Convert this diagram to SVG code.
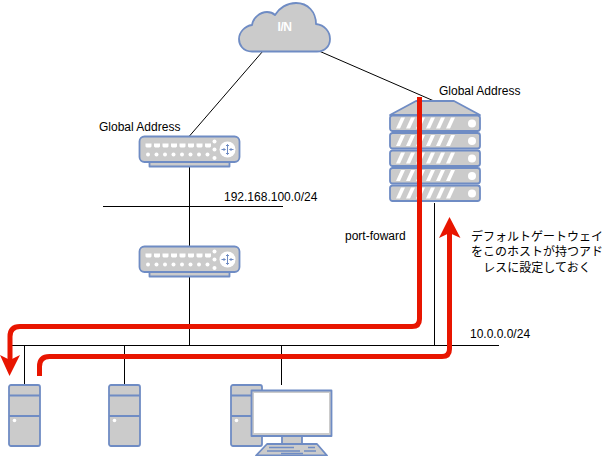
<svg xmlns="http://www.w3.org/2000/svg" width="610" height="456" viewBox="0 0 610 456">
<style>
.s{fill:#cbcbcb;stroke:#6f8cc4;stroke-width:1.800;stroke-linejoin:round}
.w{fill:#fff}
.l{fill:none;stroke:#000;stroke-width:1}
.r{fill:none;stroke:#e81500;stroke-width:5}
.a{fill:#e81500}
.t{font-family:"Liberation Sans","Noto Sans CJK JP",sans-serif;font-size:12px;fill:#000}
.j{text-anchor:middle}
.m{fill:none;stroke:#6f8cc4;stroke-width:1.800}
</style>
<defs>
<g id="router">
<rect class="s" x="10" y="24" width="80" height="6"/>
<rect class="s" x="0" y="0" width="100" height="25.500" rx="5"/>
<g class="w">
<path d="M6 7h6v3l-1 1h-4l-1-1zM14.500 7h6v3l-1 1h-4l-1-1zM23 7h6v3l-1 1h-4l-1-1zM31.500 7h6v3l-1 1h-4l-1-1zM40 7h6v3l-1 1h-4l-1-1zM48.500 7h6v3l-1 1h-4l-1-1zM57 7h6v3l-1 1h-4l-1-1zM65.500 7h6v3l-1 1h-4l-1-1z"/>
<circle cx="8.500" cy="18" r="2"/><circle cx="17" cy="18" r="2"/><circle cx="25.500" cy="18" r="2"/><circle cx="34" cy="18" r="2"/><circle cx="42.500" cy="18" r="2"/><circle cx="51" cy="18" r="2"/><circle cx="59.500" cy="18" r="2"/><circle cx="68" cy="18" r="2"/>
<circle cx="75" cy="5" r="2"/><circle cx="75" cy="13" r="2"/><circle cx="75" cy="21.500" r="2"/>
<circle cx="88" cy="13" r="8"/>
</g>
<path d="M88 8v10M82 13h4M90 13h4M86.500 9.500l1.500-1.500 1.500 1.500M86.500 16.500l1.500 1.500 1.500-1.500M84 11.500l1.500 1.500-1.500 1.500M92 11.500l-1.500 1.500 1.500 1.500" fill="none" stroke="#6f8cc4" stroke-width="1"/>
</g>
<g id="slab">
<rect class="s" x="0" y="0" width="90" height="15.500" rx="2.500"/>
<path class="w" d="M6 13l5-11h4l-5 11zM16 13l5-11h4l-5 11zM26 13l5-11h4l-5 11zM36 13l5-11h4l-5 11zM46 13l5-11h4l-5 11zM56 13l5-11h4l-5 11z"/>
<circle class="w" cx="82" cy="8" r="4"/>
</g>
<g id="tower">
<rect class="s" x="0" y="0" width="31" height="61" rx="2"/>
<path class="m" d="M0 10.500h31M0 31h31"/>
<circle class="w" cx="5.500" cy="35.500" r="1.800"/>
</g>
</defs>
<g id="connectors">
<path class="l" d="M263 51L189.500 136M319 51L434 101M189.500 167V345.500M103 206.500H283M12 345.500H499M24.500 345.500V385M124.500 345.500V385M281.500 345.500V385M434.500 203V345.500"/>
</g>
<g id="cloud">
<path class="s" d="M252 51.500C243 51.500 239 45 239 39C239 32 245 26 252 25C253 18 260 12 267 12C270 12 273 13 275 15C279 8 287 3 296 3C308 3 316 12 316 24C325 25 330 32 330 39C330 46 325 51.500 317 51.500Z"/>
<text x="284.500" y="31" text-anchor="middle" style="font-family:'Liberation Sans',sans-serif;font-size:12px;font-weight:bold;fill:#fff;letter-spacing:-0.5px">I/N</text>
</g>
<g id="router1"><use href="#router" x="139.500" y="136.500"/></g>
<g id="router2"><use href="#router" x="139.500" y="246.500"/></g>
<g id="server">
<path class="s" d="M390 115L416 101H454L480 115Z"/>
<use href="#slab" x="390" y="115.500"/>
<use href="#slab" x="390" y="133"/>
<use href="#slab" x="390" y="150.500"/>
<use href="#slab" x="390" y="168"/>
<use href="#slab" x="390" y="185.500"/>
</g>
<g id="host1"><use href="#tower" x="9" y="385"/></g>
<g id="host2"><use href="#tower" x="109" y="385"/></g>
<g id="pc">
<use href="#tower" x="231" y="385"/>
<rect class="s" x="282" y="436" width="20" height="9"/>
<path class="s" d="M267 444H317L327 455.500H256Z"/>
<path d="M269 447.500h25M308 447.500h7M267 451h33M304 451h12M281 453.500h22" fill="none" stroke="#6f8cc4" stroke-width="1.500"/>
<rect class="s" x="251.500" y="390.500" width="80" height="45.500"/>
<rect class="w" x="254" y="393" width="75" height="40"/>
</g>
<g id="flows">
<path class="r" d="M419.500 97V319Q419.500 326.500 412 326.500H20Q10 326.500 10 336.500V362"/>
<path class="a" d="M0 355L10 360L20 355L9.500 376Z"/>
<path class="r" d="M39.500 376V366.500Q39.500 356.500 49.500 356.500H442Q449.500 356.500 449.500 349V231"/>
<path class="a" d="M439 238L449.500 233L460.500 238L449.500 217Z"/>
</g>
<g id="labels">
<text class="t" x="99" y="131">Global Address</text>
<text class="t" x="439" y="95">Global Address</text>
<text class="t" x="224" y="201">192.168.100.0/24</text>
<text class="t" x="345" y="240">port-foward</text>
<text class="t" x="470" y="338">10.0.0.0/24</text>
<text class="t j" x="537" y="241">デフォルトゲートウェイ</text>
<text class="t j" x="537" y="256">をこのホストが持つアド</text>
<text class="t j" x="537" y="272">レスに設定しておく</text>
</g>
</svg>
